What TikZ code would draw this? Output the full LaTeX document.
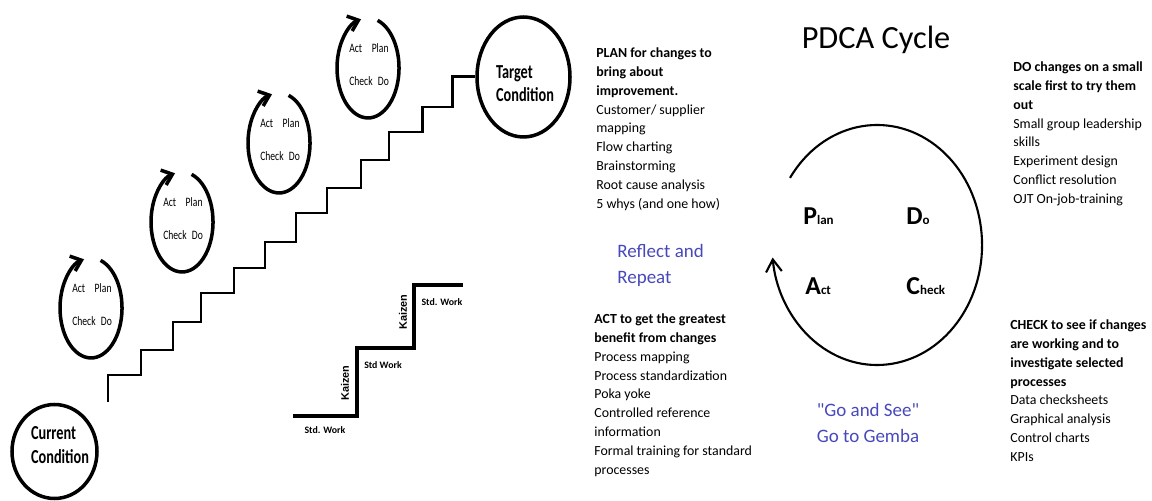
\documentclass[tikz,border=0pt]{standalone}
\usepackage{fontspec}
\setmainfont{Carlito}
\newfontfamily\kaizenfont{Liberation Sans}
\usepackage{tikz}
\usetikzlibrary{arrows,arrows.meta,shapes.geometric}

\definecolor{gemba}{RGB}{72,72,188}

% big first letter, small rest
\newcommand{\pdcaletter}[2]{{\fontsize{14.7}{15}\selectfont #1}{\fontsize{7.4}{8}\selectfont #2}}

\begin{document}
\begin{tikzpicture}[x=0.02cm,y=0.02cm,
  cond/.style={draw,ellipse,line width=2pt,inner sep=0pt},
  condtext/.style={align=left,xscale=0.72,font=\bfseries\fontsize{11.3}{13.3}\selectfont},
  pdcaloop/.style={line width=2pt,-{Straight Barb[length=5.5pt,width=9pt]}},
  looptext/.style={anchor=base west,inner sep=0pt,xscale=0.75,font=\fontsize{7.3}{8}\selectfont},
  stairs/.style={line width=1.7pt,line join=miter},
  kaizen/.style={line width=2.8pt,line join=miter},
  stdwork/.style={inner sep=0pt,font=\bfseries\fontsize{5.6}{6}\selectfont},
  kaizentext/.style={inner sep=0pt,rotate=90,font=\kaizenfont\bfseries\fontsize{6.2}{7}\selectfont},
  info/.style={anchor=north west,align=left,inner sep=0pt,font=\fontsize{7.9}{10.8}\selectfont},
  blue/.style={inner sep=0pt,text=gemba,font=\fontsize{10.8}{14.7}\selectfont},
  letter/.style={anchor=base west,inner sep=0pt,font=\bfseries}]
\useasboundingbox (0,0) rectangle (1152,500);

% current and target condition
\node[cond,minimum width=1.70cm,minimum height=1.88cm] (current) at (54.5,48.5) {};
\node[condtext] (currenttext) at (60,55) {Current\\Condition};
\node[cond,minimum width=1.86cm,minimum height=2.4cm] (target) at (523.5,423) {};
\node[condtext] (targettext) at (525,416.5) {Target\\Condition};

% staircase between them
\coordinate (stairfoot) at (108,98);
\draw[stairs] (stairfoot) |- (141,125) |- (173,150) |- (201,178) |- (234,207)
  |- (265,232) |- (296,258) |- (327,287) |- (361,312) |- (389,340)
  |- (422,368) |- (452,393) |- (target.west);

% little PDCA loops along the stairs
\draw[pdcaloop] (100.6,239.6) arc[start angle=72,end angle=-257,x radius=31,y radius=50];
\node[looptext] (acta) at (72,207) {Act\quad Plan};
\node[looptext] (checka) at (72,174) {Check\hspace{0.55em}Do};

\draw[pdcaloop] (191.6,325.6) arc[start angle=72,end angle=-257,x radius=31,y radius=50];
\node[looptext] (actb) at (163,293) {Act\quad Plan};
\node[looptext] (checkb) at (163,260) {Check\hspace{0.55em}Do};

\draw[pdcaloop] (288.6,404.6) arc[start angle=72,end angle=-257,x radius=31,y radius=50];
\node[looptext] (actc) at (260,372) {Act\quad Plan};
\node[looptext] (checkc) at (260,339) {Check\hspace{0.55em}Do};

\draw[pdcaloop] (377.6,479.6) arc[start angle=72,end angle=-257,x radius=31,y radius=50];
\node[looptext] (actd) at (349,447) {Act\quad Plan};
\node[looptext] (checkd) at (349,414) {Check\hspace{0.55em}Do};

% kaizen steps
\draw[kaizen] (293,84) -| (357,152) -| (414,215) -- (463,215);
\node[stdwork] (stda) at (325,70) {Std. Work};
\node[stdwork] (stdb) at (383,135) {Std Work};
\node[stdwork] (stdc) at (442,198) {Std. Work};
\node[kaizentext] (kaizena) at (345,117) {Kaizen};
\node[kaizentext] (kaizenb) at (403,188) {Kaizen};

% PDCA cycle
\node[anchor=base,inner sep=0pt,font=\fontsize{18.4}{20}\selectfont] (title) at (876,451) {PDCA Cycle};
\draw[line width=1.2pt,-{Straight Barb[length=7pt,width=9pt]}]
  (790,322.1) arc[start angle=146,end angle=-174,x radius=105,y radius=120];
\node[letter] (plan) at (803,275) {\pdcaletter{P}{lan}};
\node[letter] (do) at (906,275) {\pdcaletter{D}{o}};
\node[letter] (act) at (805,205) {\pdcaletter{A}{ct}};
\node[letter] (check) at (906,205) {\pdcaletter{C}{heck}};

\node[info] (plantext) at (596,453) {\textbf{PLAN for changes to}\\\textbf{bring about}\\\textbf{improvement.}\\Customer/ supplier\\mapping\\Flow charting\\Brainstorming\\Root cause analysis\\5 whys (and one how)};
\node[info] (dotext) at (1013,439) {\textbf{DO changes on a small}\\\textbf{scale first to try them}\\\textbf{out}\\Small group leadership\\skills\\Experiment design\\Conflict resolution\\OJT On-job-training};
\node[info] (acttext) at (594,187) {\textbf{ACT to get the greatest}\\\textbf{benefit from changes}\\Process mapping\\Process standardization\\Poka yoke\\Controlled reference\\information\\Formal training for standard\\processes};
\node[info] (checktext) at (1010,181) {\textbf{CHECK to see if changes}\\\textbf{are working and to}\\\textbf{investigate selected}\\\textbf{processes}\\Data checksheets\\Graphical analysis\\Control charts\\KPIs};

\node[blue,anchor=north west,align=left] (reflect) at (617,256) {Reflect and\\Repeat};
\node[blue,anchor=north,align=center] (gemba) at (868,97) {\textquotedbl Go and See\textquotedbl\\Go to Gemba};
\end{tikzpicture}
\end{document}
